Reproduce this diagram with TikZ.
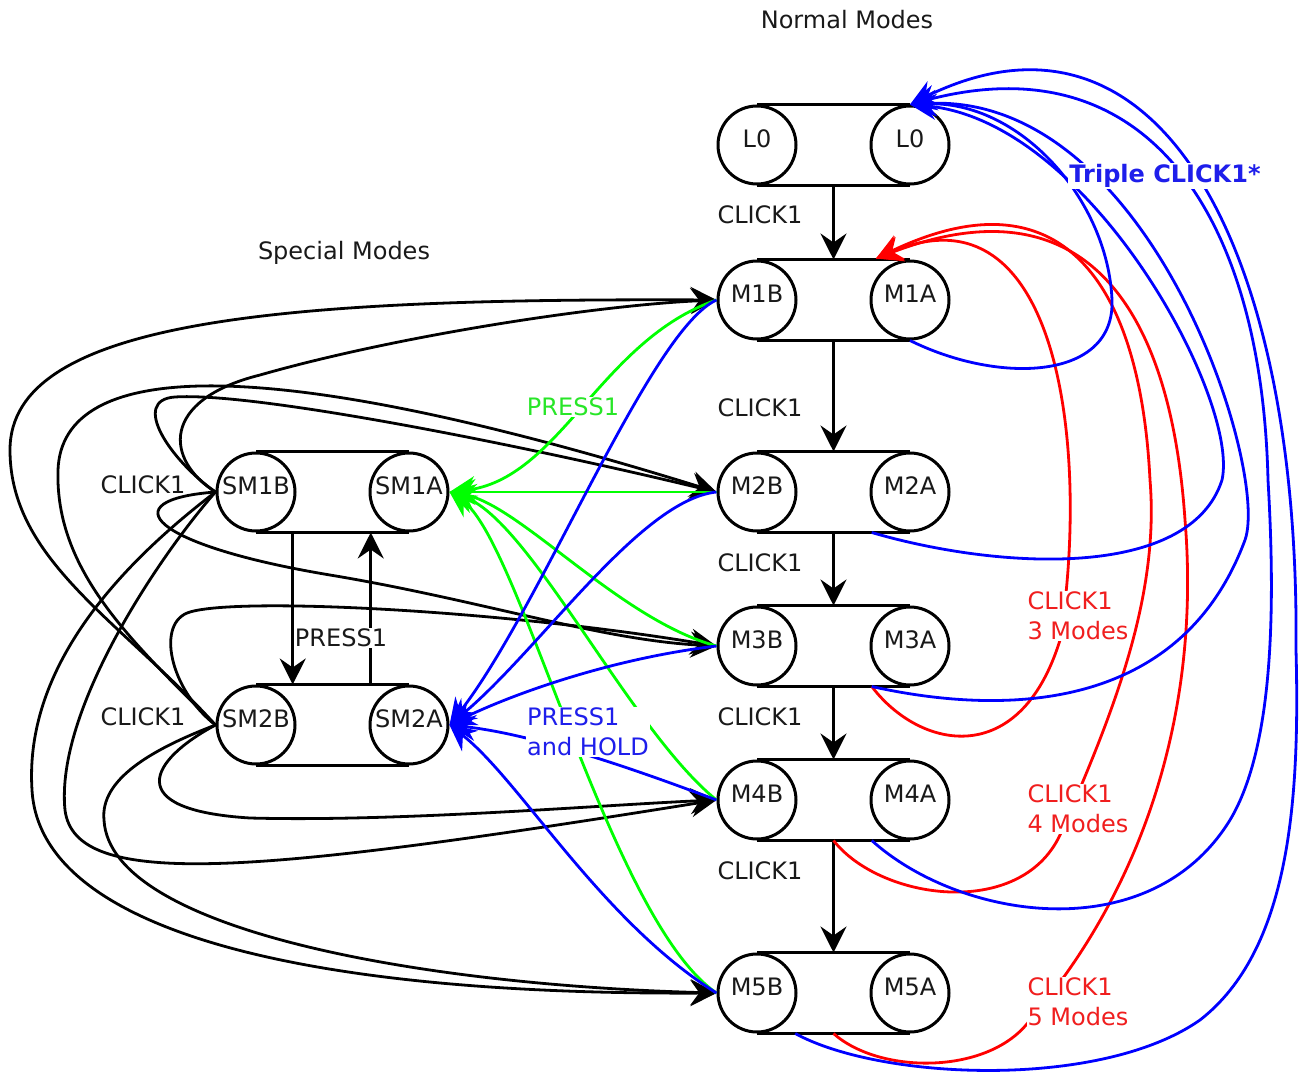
\documentclass[tikz,border=0pt]{standalone}
\usepackage{fontspec}
\setmainfont{DejaVu Sans}
\usetikzlibrary{arrows.meta,calc}
\definecolor{gline}{RGB}{0,255,0}
\definecolor{bline}{RGB}{0,0,255}
\definecolor{rline}{RGB}{255,0,0}
\definecolor{gtext}{RGB}{40,230,40}
\definecolor{btext}{RGB}{30,30,235}
\definecolor{rtext}{RGB}{240,30,30}
\definecolor{ktext}{RGB}{25,25,25}
\begin{document}
\begin{tikzpicture}[x=1pt,y=-1pt,
  modec/.style={circle,draw,line width=3pt,minimum size=78pt,inner sep=0pt,fill=white,text=ktext,
    font=\fontsize{24}{28}\selectfont,text height=17.5pt,text depth=12pt},
  con/.style={line width=2.8pt,-{Stealth[length=26pt,width=26pt,inset=9pt]}},
  capline/.style={line width=3pt},
  lbl/.style={font=\fontsize{24}{30}\selectfont,inner sep=1pt,text=ktext},
  lblw/.style={lbl,fill=white},
]
\useasboundingbox (0,0) rectangle (1302,1084);

% ---- mode capsules ----
\node[modec] (l0b) at (757,145) {L0};
\node[modec] (l0a) at (910,145) {L0};
\node[modec] (m1b) at (757,300) {M1B};
\node[modec] (m1a) at (910,300) {M1A};
\node[modec] (m2b) at (757,492) {M2B};
\node[modec] (m2a) at (910,492) {M2A};
\node[modec] (m3b) at (757,646) {M3B};
\node[modec] (m3a) at (910,646) {M3A};
\node[modec] (m4b) at (757,800) {M4B};
\node[modec] (m4a) at (910,800) {M4A};
\node[modec] (m5b) at (757,993) {M5B};
\node[modec] (m5a) at (910,993) {M5A};
\node[modec] (sm1b) at (256,492) {SM1B};
\node[modec] (sm1a) at (409,492) {SM1A};
\node[modec] (sm2b) at (256,725) {SM2B};
\node[modec] (sm2a) at (409,725) {SM2A};

\foreach \p in {l0,m1,m2,m3,m4,m5,sm1,sm2}{
  \draw[capline] (\p b.north) -- (\p a.north);
  \draw[capline] (\p b.south) -- (\p a.south);
}

% ---- vertical CLICK1 arrows ----
\draw[con] ($(l0b.south)!0.5!(l0a.south)$) -- ($(m1b.north)!0.5!(m1a.north)$);
\draw[con] ($(m1b.south)!0.5!(m1a.south)$) -- ($(m2b.north)!0.5!(m2a.north)$);
\draw[con] ($(m2b.south)!0.5!(m2a.south)$) -- ($(m3b.north)!0.5!(m3a.north)$);
\draw[con] ($(m3b.south)!0.5!(m3a.south)$) -- ($(m4b.north)!0.5!(m4a.north)$);
\draw[con] ($(m4b.south)!0.5!(m4a.south)$) -- ($(m5b.north)!0.5!(m5a.north)$);

% ---- special modes PRESS1 arrows ----
\coordinate (sdown1) at ($(sm1b.south)!0.24!(sm1a.south)$);
\coordinate (sdown2) at ($(sm2b.north)!0.24!(sm2a.north)$);
\coordinate (sup1) at ($(sm1b.south)!0.75!(sm1a.south)$);
\coordinate (sup2) at ($(sm2b.north)!0.75!(sm2a.north)$);
\draw[con] (sdown1) -- (sdown2);
\draw[con] (sup2) -- (sup1);

% ---- black CLICK1 curves from special modes ----
\draw[con] (sm2b.west) .. controls (120,620) and (10,560) .. (10,450) .. controls (10,320) and (280,298) .. (m1b.west);
\draw[con] (sm1b.west) .. controls (165,460) and (160,400) .. (260,375) .. controls (400,335) and (600,305) .. (m1b.west);
\draw[con] (sm2b.west) .. controls (130,640) and (55,570) .. (58,470) .. controls (62,360) and (260,350) .. (m2b.west);
\draw[con] (sm1b.west) .. controls (170,460) and (130,400) .. (175,397) .. controls (250,392) and (500,440) .. (m2b.west);
\draw[con] (sm1b.west) .. controls (110,500) and (150,545) .. (330,575) .. controls (480,600) and (600,640) .. (m3b.west);
\draw[con] (sm2b.west) .. controls (170,690) and (155,622) .. (190,612) .. controls (240,597) and (500,610) .. (m3b.west);
\draw[con] (sm2b.west) .. controls (150,760) and (120,810) .. (250,818) .. controls (400,822) and (600,805) .. (m4b.west);
\draw[con] (sm1b.west) .. controls (160,555) and (55,710) .. (65,810) .. controls (75,890) and (250,875) .. (m4b.west);
\draw[con] (sm1b.west) .. controls (100,580) and (25,680) .. (32,790) .. controls (40,930) and (300,995) .. (m5b.west);
\draw[con] (sm2b.west) .. controls (150,750) and (100,780) .. (104,820) .. controls (110,930) and (420,985) .. (m5b.west);

% ---- green PRESS1 ----
\begin{scope}[gline]
\draw[con] (m1b.west) .. controls (600,340) and (560,480) .. (sm1a.east);
\draw[con] (m2b.west) -- (sm1a.east);
\draw[con] (m3b.west) .. controls (620,620) and (520,505) .. (sm1a.east);
\draw[con] (m4b.west) .. controls (630,730) and (530,520) .. (sm1a.east);
\draw[con] (m5b.west) .. controls (610,920) and (520,540) .. (sm1a.east);
\end{scope}

% ---- blue PRESS1 and HOLD ----
\begin{scope}[bline]
\draw[con] (m1b.west) .. controls (650,330) and (540,610) .. (sm2a.east);
\draw[con] (m2b.west) .. controls (640,500) and (540,650) .. (sm2a.east);
\draw[con] (m3b.west) .. controls (600,660) and (500,700) .. (sm2a.east);
\draw[con] (m4b.west) .. controls (650,775) and (540,735) .. (sm2a.east);
\draw[con] (m5b.west) .. controls (600,920) and (520,780) .. (sm2a.east);
\end{scope}

% ---- red CLICK1 n Modes ----
\coordinate (rt) at ($(m1a.north)+(-34,-1)$);
\begin{scope}[rline]
\draw[con] ($(m3b.south)!0.75!(m3a.south)$) .. controls (920,750) and (1020,770) .. (1060,640) .. controls (1090,450) and (1060,180) .. (rt);
\draw[con] ($(m4b.south)!0.5!(m4a.south)$) .. controls (880,900) and (1020,920) .. (1060,835) .. controls (1110,720) and (1160,600) .. (1150,480) .. controls (1140,280) and (1060,170) .. (rt);
\draw[con] ($(m5b.south)!0.5!(m5a.south)$) .. controls (880,1075) and (990,1075) .. (1030,1020) .. controls (1150,880) and (1200,700) .. (1185,520) .. controls (1170,300) and (1080,180) .. (rt);
\end{scope}

% ---- blue Triple CLICK1* ----
\coordinate (bt) at (l0a.north);
\begin{scope}[bline]
\draw[con] (m1a.south) .. controls (1000,385) and (1115,380) .. (1112,300) .. controls (1108,200) and (1020,100) .. (bt);
\draw[con] ($(m2b.south)!0.75!(m2a.south)$) .. controls (1000,570) and (1190,580) .. (1222,480) .. controls (1240,400) and (1090,120) .. (bt);
\draw[con] ($(m3b.south)!0.75!(m3a.south)$) .. controls (1000,715) and (1180,715) .. (1245,540) .. controls (1270,470) and (1150,90) .. (bt);
\draw[con] ($(m4b.south)!0.75!(m4a.south)$) .. controls (960,920) and (1150,950) .. (1230,820) .. controls (1275,745) and (1275,600) .. (1268,480) .. controls (1262,220) and (1150,40) .. (bt);
\draw[con] ($(m5b.south)!0.25!(m5a.south)$) .. controls (880,1080) and (1100,1090) .. (1200,1020) .. controls (1290,950) and (1300,800) .. (1296,650) .. controls (1300,250) and (1160,-20) .. (bt);
\end{scope}

% ---- labels ----
\node[lbl] (tnormal) at (847,20) {Normal Modes};
\node[lbl] (tspecial) at (344,253) {Special Modes};
\node[lbl] (c01) at (760,215) {CLICK1};
\node[lbl] (c12) at (760,408) {CLICK1};
\node[lbl] (c23) at (760,563) {CLICK1};
\node[lbl] (c34) at (760,717) {CLICK1};
\node[lbl] (c45) at (760,871) {CLICK1};
\node[lbl] (csm1) at (143,485) {CLICK1};
\node[lbl] (csm2) at (143,717) {CLICK1};
\node[lblw] (psm) at (341,638) {PRESS1};
\node[lblw,text=gtext] (pgreen) at (573,407) {PRESS1};
\node[lblw,text=btext,align=left] (pblue) at (588,732) {PRESS1\\and HOLD};
\node[lblw,text=btext,font=\fontsize{24}{30}\selectfont\bfseries] (triple) at (1165,176) {Triple CLICK1*};
\node[lblw,text=rtext,align=left] (r3) at (1078,616) {CLICK1\\3 Modes};
\node[lblw,text=rtext,align=left] (r4) at (1078,809) {CLICK1\\4 Modes};
\node[lblw,text=rtext,align=left] (r5) at (1078,1002) {CLICK1\\5 Modes};
\end{tikzpicture}
\end{document}
